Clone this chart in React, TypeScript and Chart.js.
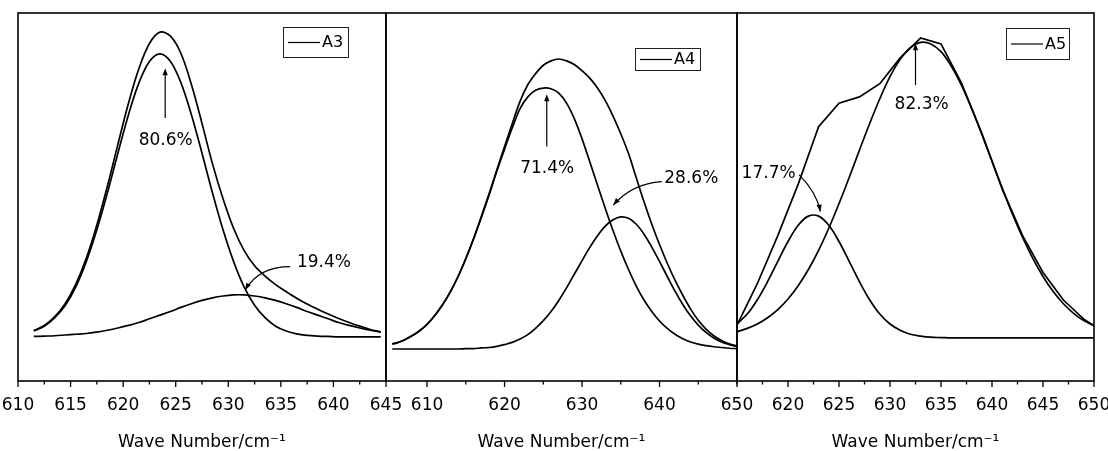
import { useEffect, useRef } from "react";
import { Chart, registerables } from "chart.js";

Chart.register(...registerables);

const FONT = "DejaVu Sans";
const OFF = 60;
const CW = 1108 + OFF + 30;
const CH = 451;
const AXIS_TITLE = "Wave Number/cm⁻¹";

// ---------- Panel A3 ----------
const A3_X = [611.5, 612.5, 613.5, 614.5, 615.5, 616.5, 617.5, 618.5, 619.5, 620.5, 621.5, 622.5, 623.5, 624.5, 625.5, 626.5, 627.5, 628.5, 629.5, 630.5, 631.5, 632.5, 633.5, 634.5, 635.5, 636.5, 637.5, 638.5, 639.5, 640.5, 641.5, 642.5, 643.5, 644.5];
const A3_MEASURED = [13.7, 15.1, 17.5, 21.1, 26.3, 33.4, 42.4, 52.9, 64.3, 75.4, 84.9, 91.7, 94.8, 93.7, 89.0, 80.5, 70.0, 59.0, 49.5, 41.5, 35.5, 31.3, 28.5, 26.2, 24.3, 22.5, 20.9, 19.5, 18.2, 17.0, 15.9, 14.9, 14.0, 13.3];
const A3_PEAK_MAIN = [13.6, 14.9, 17.2, 20.6, 25.6, 32.5, 41.1, 51.1, 61.9, 72.3, 81.0, 86.8, 88.9, 86.8, 81.0, 72.3, 61.9, 51.1, 41.1, 32.5, 25.6, 20.6, 17.2, 14.9, 13.6, 12.8, 12.4, 12.2, 12.1, 12.0, 12.0, 12.0, 12.0, 12.0];
const A3_PEAK_MINOR = [12.1, 12.2, 12.3, 12.5, 12.7, 12.9, 13.3, 13.8, 14.4, 15.1, 15.9, 16.9, 17.9, 18.9, 20.0, 21.0, 21.9, 22.6, 23.1, 23.4, 23.4, 23.1, 22.6, 21.9, 21.0, 20.0, 18.9, 17.9, 16.9, 15.9, 15.1, 14.4, 13.8, 13.3];
const A3_TICKS = [610, 612.5, 615, 617.5, 620, 622.5, 625, 627.5, 630, 632.5, 635, 637.5, 640, 642.5, 645];
const A3_LABELS = [610, 615, 620, 625, 630, 635, 640, 645];

// ---------- Panel A4 ----------
const A4_X = [605.5, 606, 607, 608, 609, 610, 611, 612, 613, 614, 615, 616, 617, 618, 619, 620, 621, 622, 623, 624, 625, 626, 627, 628, 629, 630, 631, 632, 633, 634, 635, 636, 637, 638, 639, 640, 641, 642, 643, 644, 645, 646, 647, 648, 649, 650];
const A4_MEASURED = [10.1, 10.3, 11.1, 12.2, 13.6, 15.4, 17.8, 20.7, 24.2, 28.4, 33.3, 38.7, 44.7, 50.9, 57.3, 63.7, 70.0, 76.0, 80.5, 83.5, 85.8, 87.0, 87.5, 87.0, 86.0, 84.3, 82.3, 79.6, 76.2, 72.0, 67.2, 61.8, 55.2, 48.7, 42.6, 37.1, 32.0, 27.4, 23.3, 19.6, 16.5, 14.1, 12.3, 11.0, 10.1, 9.5];
const A4_PEAK_MAIN = [10.1, 10.3, 11.1, 12.2, 13.6, 15.4, 17.8, 20.7, 24.2, 28.4, 33.2, 38.6, 44.4, 50.5, 57.0, 63.0, 68.8, 74.0, 77.2, 79.0, 79.6, 79.4, 78.2, 75.5, 71.3, 65.8, 59.6, 53.2, 46.9, 40.9, 35.3, 30.3, 25.8, 22.0, 18.9, 16.3, 14.3, 12.7, 11.5, 10.6, 10.0, 9.6, 9.3, 9.1, 8.9, 8.8];
const A4_PEAK_MINOR = [8.7, 8.7, 8.7, 8.7, 8.7, 8.7, 8.7, 8.7, 8.7, 8.7, 8.8, 8.8, 9.0, 9.1, 9.4, 9.9, 10.5, 11.4, 12.6, 14.3, 16.4, 18.9, 21.9, 25.3, 29.0, 32.7, 36.3, 39.5, 42.1, 43.8, 44.6, 44.2, 42.6, 39.9, 36.4, 32.5, 28.4, 24.4, 20.8, 17.7, 15.2, 13.2, 11.7, 10.6, 9.9, 9.4];
const A4_TICKS = [610, 615, 620, 625, 630, 635, 640, 645, 650];
const A4_LABELS = [610, 620, 630, 640, 650];

// ---------- Panel A5 ----------
const A5_RAW_X = [615, 617, 619, 621, 623, 625, 627, 629, 631, 633, 635, 637, 639, 641, 643, 645, 647, 649, 650];
const A5_MEASURED = [15.2, 26.5, 39.5, 53.5, 69.1, 75.5, 77.2, 80.8, 87.8, 93.2, 91.6, 81.0, 67.3, 52.2, 39.5, 29.5, 22.0, 16.8, 15.0];
const A5_X = [615, 616, 617, 618, 619, 620, 621, 622, 623, 624, 625, 626, 627, 628, 629, 630, 631, 632, 633, 634, 635, 636, 637, 638, 639, 640, 641, 642, 643, 644, 645, 646, 647, 648, 649, 650];
const A5_PEAK_MAIN = [13.4, 14.3, 15.5, 17.2, 19.4, 22.3, 25.9, 30.3, 35.5, 41.5, 48.2, 55.3, 62.7, 69.9, 76.7, 82.7, 87.4, 90.6, 92.0, 91.6, 89.5, 85.6, 80.4, 74.1, 67.1, 59.7, 52.4, 45.4, 39.0, 33.3, 28.4, 24.3, 21.0, 18.4, 16.4, 15.0];
const A5_PEAK_MINOR = [15.5, 18.2, 22.1, 27.0, 32.5, 37.9, 42.3, 44.8, 44.8, 42.3, 37.9, 32.5, 27.0, 22.1, 18.2, 15.5, 13.8, 12.7, 12.2, 11.9, 11.8, 11.7, 11.7, 11.7, 11.7, 11.7, 11.7, 11.7, 11.7, 11.7, 11.7, 11.7, 11.7, 11.7, 11.7, 11.7];
const A5_TICKS = [615, 617.5, 620, 622.5, 625, 627.5, 630, 632.5, 635, 637.5, 640, 642.5, 645, 647.5, 650];
const A5_LABELS = [620, 625, 630, 635, 640, 645, 650];

type Arrow =
  | { kind: "v"; x: number; y0: number; y1: number }
  | { kind: "q"; x0: number; y0: number; cx: number; cy: number; x1: number; y1: number };
type Annot = { text: string; x: number; y: number; arrow: Arrow };
type Series = { xs: number[]; ys: number[]; tension: number };
type PanelCfg = {
  left: number;
  right: number;
  min: number;
  max: number;
  ticks: number[];
  labels: number[];
  series: Series[];
  legend: { name: string; rightOff: number; topOff: number; w: number; h: number };
  annots: Annot[];
};

const PANELS: PanelCfg[] = [
  {
    left: 18,
    right: 386,
    min: 610,
    max: 645,
    ticks: A3_TICKS,
    labels: A3_LABELS,
    series: [
      { xs: A3_X, ys: A3_MEASURED, tension: 0.35 },
      { xs: A3_X, ys: A3_PEAK_MAIN, tension: 0.35 },
      { xs: A3_X, ys: A3_PEAK_MINOR, tension: 0.35 },
    ],
    legend: { name: "A3", rightOff: 38, topOff: 14, w: 65, h: 30 },
    annots: [
      { text: "80.6%", x: 624.05, y: 65.4, arrow: { kind: "v", x: 624.0, y0: 71.5, y1: 85.0 } },
      { text: "19.4%", x: 639.1, y: 32.2, arrow: { kind: "q", x0: 635.9, y0: 31.1, cx: 632.9, cy: 31.1, x1: 631.6, y1: 24.7 } },
    ],
  },
  {
    left: 386,
    right: 737,
    min: 604.7,
    max: 650,
    ticks: A4_TICKS,
    labels: A4_LABELS,
    series: [
      { xs: A4_X, ys: A4_MEASURED, tension: 0.35 },
      { xs: A4_X, ys: A4_PEAK_MAIN, tension: 0.35 },
      { xs: A4_X, ys: A4_PEAK_MINOR, tension: 0.35 },
    ],
    legend: { name: "A4", rightOff: 37, topOff: 35, w: 65, h: 22 },
    annots: [
      { text: "71.4%", x: 625.5, y: 57.7, arrow: { kind: "v", x: 625.45, y0: 63.7, y1: 77.9 } },
      { text: "28.6%", x: 644.1, y: 55.0, arrow: { kind: "q", x0: 640.3, y0: 54.2, cx: 636.45, cy: 53.7, x1: 634.04, y1: 47.8 } },
    ],
  },
  {
    left: 737,
    right: 1094,
    min: 615,
    max: 650,
    ticks: A5_TICKS,
    labels: A5_LABELS,
    series: [
      { xs: A5_RAW_X, ys: A5_MEASURED, tension: 0 },
      { xs: A5_X, ys: A5_PEAK_MAIN, tension: 0.35 },
      { xs: A5_X, ys: A5_PEAK_MINOR, tension: 0.35 },
    ],
    legend: { name: "A5", rightOff: 25, topOff: 15, w: 63, h: 31 },
    annots: [
      { text: "82.3%", x: 633.1, y: 75.1, arrow: { kind: "v", x: 632.5, y0: 80.4, y1: 91.8 } },
      { text: "17.7%", x: 618.1, y: 56.3, arrow: { kind: "q", x0: 621.1, y0: 56.0, cx: 622.85, cy: 51.1, x1: 623.17, y1: 46.0 } },
    ],
  },
];

function pts(xs: number[], ys: number[]) {
  return xs.map((x, i) => ({ x, y: ys[i] }));
}

function arrowHead(ctx: CanvasRenderingContext2D, tx: number, ty: number, dx: number, dy: number) {
  const len = Math.hypot(dx, dy) || 1;
  const ux = dx / len;
  const uy = dy / len;
  const L = 7;
  const Wd = 2.6;
  ctx.beginPath();
  ctx.moveTo(tx, ty);
  ctx.lineTo(tx - ux * L - uy * Wd, ty - uy * L + ux * Wd);
  ctx.lineTo(tx - ux * L + uy * Wd, ty - uy * L - ux * Wd);
  ctx.closePath();
  ctx.fill();
}

function makeDeco(p: PanelCfg) {
  return {
    id: "deco",
    afterDraw(chart: any) {
      const { ctx, chartArea: a, scales } = chart;
      const xs = scales.x;
      const ys = scales.y;
      ctx.save();
      ctx.strokeStyle = "#000";
      ctx.fillStyle = "#000";
      // frame
      ctx.lineWidth = 1.6;
      ctx.strokeRect(a.left, a.top, a.right - a.left, a.bottom - a.top);
      // tick marks
      ctx.lineWidth = 1.3;
      for (const v of p.ticks) {
        const px = xs.getPixelForValue(v);
        const major = p.labels.includes(v) || (p.ticks.length < 10 && v % 10 === 0);
        ctx.beginPath();
        ctx.moveTo(px, a.bottom);
        ctx.lineTo(px, a.bottom + (major ? 6 : 3.5));
        ctx.stroke();
      }
      // legend box
      const lg = p.legend;
      const bx = a.right - lg.rightOff - lg.w;
      const by = a.top + lg.topOff;
      ctx.lineWidth = 1;
      ctx.strokeStyle = "#222";
      ctx.strokeRect(bx + 0.5, by + 0.5, lg.w, lg.h);
      ctx.strokeStyle = "#000";
      ctx.lineWidth = 1.2;
      ctx.beginPath();
      ctx.moveTo(bx + 5, by + lg.h / 2 + 0.5);
      ctx.lineTo(bx + 37, by + lg.h / 2 + 0.5);
      ctx.stroke();
      ctx.font = `16px ${FONT}`;
      ctx.textAlign = "left";
      ctx.textBaseline = "middle";
      ctx.fillText(lg.name, bx + 39, by + lg.h / 2 + 1);
      // annotations
      ctx.font = `17px ${FONT}`;
      ctx.textAlign = "center";
      for (const an of p.annots) {
        ctx.fillText(an.text, xs.getPixelForValue(an.x), ys.getPixelForValue(an.y));
        const ar = an.arrow;
        ctx.lineWidth = 1.2;
        if (ar.kind === "v") {
          const px = xs.getPixelForValue(ar.x);
          const p0 = ys.getPixelForValue(ar.y0);
          const p1 = ys.getPixelForValue(ar.y1);
          ctx.beginPath();
          ctx.moveTo(px, p0);
          ctx.lineTo(px, p1 + 4);
          ctx.stroke();
          arrowHead(ctx, px, p1, 0, p1 - p0);
        } else {
          const x0 = xs.getPixelForValue(ar.x0);
          const y0 = ys.getPixelForValue(ar.y0);
          const cx = xs.getPixelForValue(ar.cx);
          const cy = ys.getPixelForValue(ar.cy);
          const x1 = xs.getPixelForValue(ar.x1);
          const y1 = ys.getPixelForValue(ar.y1);
          ctx.beginPath();
          ctx.moveTo(x0, y0);
          ctx.quadraticCurveTo(cx, cy, x1, y1);
          ctx.stroke();
          arrowHead(ctx, x1, y1, x1 - cx, y1 - cy);
        }
      }
      ctx.restore();
    },
  };
}

function Panel({ p }: { p: PanelCfg }) {
  const ref = useRef<HTMLCanvasElement>(null);
  useEffect(() => {
    const chart = new Chart(ref.current as HTMLCanvasElement, {
      type: "line",
      data: {
        datasets: p.series.map((s) => ({
          data: pts(s.xs, s.ys),
          borderColor: "#000",
          borderWidth: 1.7,
          pointRadius: 0,
          tension: s.tension,
          fill: false,
        })),
      },
      options: {
        responsive: false,
        animation: false,
        devicePixelRatio: 1,
        layout: { padding: { left: p.left + OFF, right: CW - OFF - p.right, top: 13, bottom: 0 } },
        plugins: { legend: { display: false }, tooltip: { enabled: false } },
        scales: {
          x: {
            type: "linear",
            min: p.min,
            max: p.max,
            grid: { display: false, drawTicks: false },
            border: { display: false },
            afterBuildTicks: (s: any) => {
              s.ticks = p.ticks.map((v) => ({ value: v }));
            },
            afterFit: (s: any) => {
              s.height = 70;
            },
            ticks: {
              autoSkip: false,
              maxRotation: 0,
              minRotation: 0,
              padding: 14,
              color: "#000",
              font: { family: FONT, size: 17, lineHeight: 1.2 },
              callback: (v: any) => (p.labels.includes(Number(v)) ? String(v) : ""),
            },
            title: {
              display: true,
              text: AXIS_TITLE,
              color: "#000",
              font: { family: FONT, size: 17, lineHeight: 1 },
              padding: { top: 0, bottom: 0 },
            },
          },
          y: { display: false, min: 0, max: 100 },
        },
      } as any,
      plugins: [makeDeco(p)],
    });
    return () => chart.destroy();
  }, [p]);
  return (
    <canvas
      ref={ref}
      width={CW}
      height={CH}
      style={{ position: "absolute", left: -OFF, top: 0, width: CW, height: CH }}
    />
  );
}

export default function App() {
  return (
    <div
      style={{
        position: "fixed",
        left: 0,
        top: 0,
        width: 1108,
        height: 451,
        overflow: "hidden",
        background: "#fff",
      }}
    >
      {PANELS.map((p, i) => (
        <Panel key={i} p={p} />
      ))}
    </div>
  );
}
